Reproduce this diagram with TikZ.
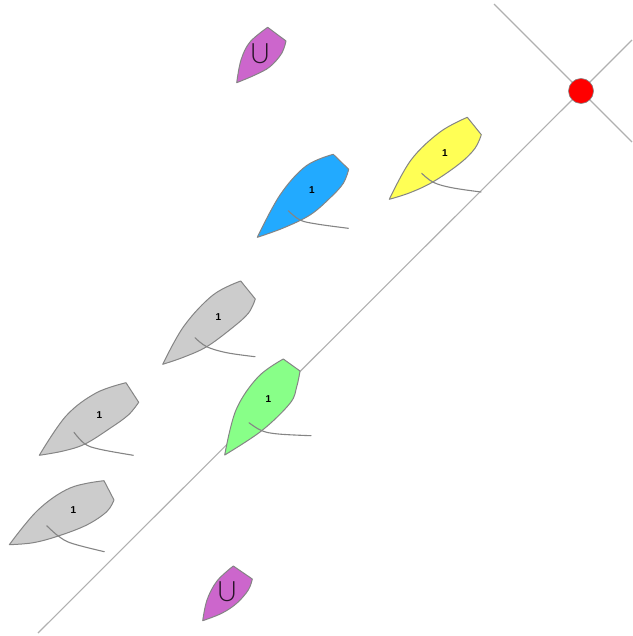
\documentclass[tikz,border=0pt]{standalone}
\usepackage{fontspec}
\setmainfont{Liberation Sans}
\newfontfamily\thinfont{Lato Light}
\definecolor{hullblue}{HTML}{22AAFF}
\definecolor{hullyellow}{HTML}{FFFF55}
\definecolor{hullgray}{HTML}{CCCCCC}
\definecolor{hullgreen}{HTML}{88FF88}
\definecolor{hullpurple}{HTML}{CC66CC}
\definecolor{edgegray}{HTML}{858585}
\definecolor{lanegray}{HTML}{B0B0B0}
\tikzset{
  hull/.style={draw=edgegray,line width=1pt,line join=round},
  sailline/.style={draw=edgegray,line width=1.1pt,line cap=round},
  lanes/.style={draw=lanegray,line width=1.1pt},
  sailno/.style={font=\fontsize{10}{10}\selectfont\bfseries,inner sep=0pt,text=black},
  classmark/.style={font=\thinfont\fontsize{28}{28}\selectfont,inner sep=0pt,text=black!80!hullpurple},
  buoy/.style={circle,draw=edgegray,line width=0.6pt,fill=red,minimum size=25pt,inner sep=0pt},
  sm/.style={smooth,tension=0.6}
}
\begin{document}
\begin{tikzpicture}[x=1pt,y=-1pt]
\useasboundingbox (0,0) rectangle (632,636);
\coordinate (startend) at (38,633);
\coordinate (startfar) at (632,40);
\coordinate (crossa) at (494,4);
\coordinate (crossb) at (632,142);
\node[buoy] (mark) at (581,91) {};
\draw[lanes] (startend) -- (mark);
\draw[lanes] (mark) -- (startfar);
\draw[lanes] (crossa) -- (mark);
\draw[lanes] (mark) -- (crossb);
% purple top
\fill[hullpurple,hull] (267.7,27.3) -- plot[sm] coordinates {(286,41) (281.7,53.3) (270,66.7) (255,75) (236.7,82.7)} -- plot[sm] coordinates {(236.7,82.7) (241,60) (250,42) (267.7,27.3)} -- cycle;
\node[classmark] (utop) at (260,54) {U};
% blue
\fill[hullblue,hull] (333.3,154.3) -- plot[sm] coordinates {(348.7,169.3) (343.3,183.3) (330,198) (310,215) (283.3,228) (257.3,237.3)} -- plot[sm] coordinates {(257.3,237.3) (280,195) (306,166) (333.3,154.3)} -- cycle;
\draw[sailline] plot[sm] coordinates {(288.3,210.7) (300,220) (316.7,224) (348.3,228.3)};
\node[sailno] (nblue) at (312,190) {1};
% yellow
\fill[hullyellow,hull] (467.3,117.3) -- plot[sm] coordinates {(481.3,134.7) (475,148.3) (460,163.3) (433.3,181.7) (410,192.7) (389.3,199.3)} -- plot[sm] coordinates {(389.3,199.3) (411,160) (440,132) (467.3,117.3)} -- cycle;
\draw[sailline] plot[sm] coordinates {(421.7,173.3) (433.3,182.3) (451.7,187.7) (481,192)};
\node[sailno] (nyellow) at (445,153) {1};
% gray 1
\fill[hullgray,hull] (240.7,281) -- plot[sm] coordinates {(255.3,299) (248.3,313.3) (231.7,328.3) (206.7,346.7) (183.3,357.3) (162.7,364.3)} -- plot[sm] coordinates {(162.7,364.3) (184,326) (213,295) (240.7,281)} -- cycle;
\draw[sailline] plot[sm] coordinates {(195,337.7) (206.7,346.7) (226.7,352.7) (255,356.7)};
\node[sailno] (ngrayone) at (218.5,317) {1};
% green
\fill[hullgreen,hull] (283.3,359) -- plot[sm] coordinates {(300,371) (296.7,386.7) (290,403.3) (261.7,430.7) (224.7,455)} -- plot[sm] coordinates {(224.7,455) (236,410) (258,377) (283.3,359)} -- cycle;
\draw[sailline] plot[sm] coordinates {(249,422.7) (261.7,430.7) (278.3,434) (311,435.7)};
\node[sailno] (ngreen) at (268.5,399) {1};
% gray 2
\fill[hullgray,hull] (126,382.7) -- plot[sm] coordinates {(138.7,402.3) (128.3,415) (110,428.3) (85,444) (63.3,451) (39.3,455.3)} -- plot[sm] coordinates {(39.3,455.3) (66,416) (96,393) (126,382.7)} -- cycle;
\draw[sailline] plot[sm] coordinates {(74,432.3) (85,444) (100,449.3) (133.3,455.3)};
\node[sailno] (ngraytwo) at (99.5,415.5) {1};
% gray 3
\fill[hullgray,hull] (104,480.7) -- plot[sm] coordinates {(114,500) (106.7,511.7) (86.7,525) (58.3,536) (33.3,542.7) (9.3,544.7)} -- plot[sm] coordinates {(9.3,544.7) (38,510) (70,488) (104,480.7)} -- cycle;
\draw[sailline] plot[sm] coordinates {(46.7,525.7) (58.3,536) (71.7,543.3) (104.3,551.7)};
\node[sailno] (ngraythree) at (73.5,510.5) {1};
% purple bottom
\fill[hullpurple,hull] (233.3,566) -- plot[sm] coordinates {(252.3,579) (248.3,590) (236.7,603.3) (221.7,613.3) (202.7,620.7)} -- plot[sm] coordinates {(202.7,620.7) (207,600) (217,581) (233.3,566)} -- cycle;
\node[classmark] (ubot) at (227,592) {U};
\end{tikzpicture}
\end{document}
